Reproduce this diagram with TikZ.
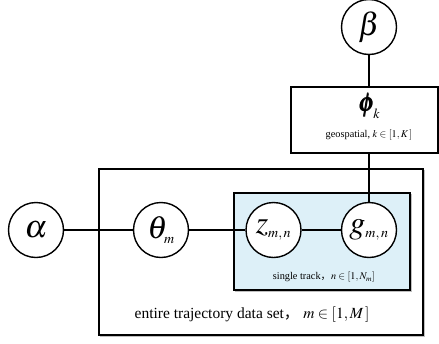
\documentclass[tikz,border=0pt]{standalone}
\usepackage{mathptmx}
\usepackage{bm}
\usepackage{fontspec}
\setmainfont{Liberation Serif}
\newfontfamily\cjk{Noto Sans CJK SC}
\definecolor{platefill}{RGB}{221,240,248}
% subscript set at a fixed small size
\newcommand{\sidx}[1]{\mbox{\fontsize{14}{16}\selectfont$#1$}}
\begin{document}
\begin{tikzpicture}[x=1pt,y=-1pt,line width=1.4pt,
  var/.style={circle,draw,minimum size=55pt,inner sep=0pt,fill=white,
    font=\fontsize{32}{36}\selectfont},
  plate/.style={draw,inner sep=0pt},
  shadowbox/.style={draw=black!25,line width=1.3pt},
  small/.style={font=\fontsize{10.3}{12}\selectfont},
  medium/.style={font=\fontsize{15.5}{18}\selectfont}]
\useasboundingbox (0,0) rectangle (439,343);

% plates
\draw[shadowbox] (100.5,170.5) rectangle (424.5,336.5);
\node[plate,fill=white,minimum width=324pt,minimum height=166pt] (outer) at (261,252) {};
\draw[shadowbox] (235.5,194.5) rectangle (411.5,291.5);
\node[plate,fill=platefill,minimum width=176pt,minimum height=97pt] (inner) at (322,241.5) {};
\node[plate,fill=white,minimum width=147pt,minimum height=66pt] (phibox) at (364.5,120) {};

% plate contents
\node[font=\fontsize{26}{30}\selectfont] (phi) at (369,106) {$\bm{\phi}_{\!\sidx{k}}$};
\node[small] (geo) at (369,135) {geospatial, $k\in[1,K\,]$};
\node[small] (track) at (324,277) {single track{\cjk，}$n\in[1,N_m]$};
\node[medium] (whole) at (252,315) {entire trajectory data set{\cjk，} $m\in[1,M\,]$};

% variables
\node[var] (beta) at (369,27) {$\beta$};
\node[var] (alpha) at (36,230) {$\alpha$};
\node[var] (theta) at (161,230) {$\theta_{\sidx{m}}$};
\node[var] (z) at (273.5,230) {$z_{\sidx{m,n}}$};
\node[var] (g) at (369,230) {$g_{\sidx{m,n}}$};

% connectors
\draw (alpha) -- (theta);
\draw (theta) -- (z);
\draw (z) -- (g);
\draw (beta.south) -- (beta.south |- phibox.north);
\draw (phibox.south -| g.north) -- (g.north);
\end{tikzpicture}
\end{document}
